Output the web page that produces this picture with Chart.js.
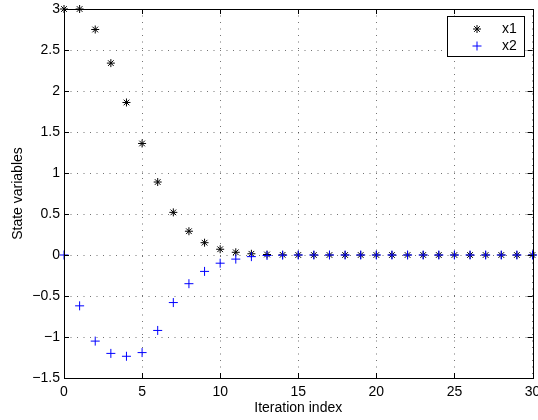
<!DOCTYPE html>
<html>
<head>
<meta charset="utf-8">
<script src="https://cdn.jsdelivr.net/npm/chart.js@4/dist/chart.umd.min.js"></script>
<style>
html,body{margin:0;padding:0;background:#fff;}
#wrap{width:538px;height:420px;position:relative;}
</style>
</head>
<body>
<div id="wrap"><canvas id="c" width="538" height="420"></canvas></div>
<script>
const iterations = [0,1,2,3,4,5,6,7,8,9,10,11,12,13,14,15,16,17,18,19,20,21,22,23,24,25,26,27,28,29,30];
const x1Values = [3, 3, 2.75, 2.34, 1.86, 1.36, 0.89, 0.52, 0.29, 0.15, 0.07, 0.033, 0.015, 0.006, 0.002, 0, 0, 0, 0, 0, 0, 0, 0, 0, 0, 0, 0, 0, 0, 0, 0];
const x2Values = [0, -0.62, -1.05, -1.2, -1.235, -1.19, -0.92, -0.58, -0.35, -0.2, -0.1, -0.05, -0.02, -0.006, -0.002, 0, 0, 0, 0, 0, 0, 0, 0, 0, 0, 0, 0, 0, 0, 0, 0];
const seriesNames = ['x1', 'x2'];
const xTitle = 'Iteration index';
const yTitle = 'State variables';

const FONT = 'Liberation Sans, Arial, Helvetica, sans-serif';

function pts(vals){ return iterations.map((x,i)=>({x:x, y:vals[i]})); }

const frameAndLegend = {
  id: 'frameAndLegend',
  afterDraw(chart){
    const {ctx, chartArea:a, scales} = chart;
    ctx.save();
    ctx.strokeStyle = '#000';
    ctx.lineWidth = 1;
    const TL = 5;
    ctx.beginPath();
    scales.x.ticks.forEach(t=>{
      const px = Math.round(scales.x.getPixelForValue(t.value)) + 0.5;
      ctx.moveTo(px, a.bottom); ctx.lineTo(px, a.bottom - TL);
      ctx.moveTo(px, a.top); ctx.lineTo(px, a.top + TL);
    });
    scales.y.ticks.forEach(t=>{
      const py = Math.round(scales.y.getPixelForValue(t.value)) + 0.5;
      ctx.moveTo(a.left, py); ctx.lineTo(a.left + TL, py);
      ctx.moveTo(a.right, py); ctx.lineTo(a.right - TL, py);
    });
    ctx.stroke();
    ctx.strokeRect(Math.round(a.left)+0.5, Math.round(a.top)+0.5, Math.round(a.right-a.left), Math.round(a.bottom-a.top));
    // legend box
    const bx = 447.5, by = 16.5, bw = 77, bh = 40;
    ctx.fillStyle = '#fff';
    ctx.fillRect(bx, by, bw, bh);
    ctx.strokeRect(bx, by, bw, bh);
    chart.data.datasets.forEach((ds, i)=>{
      const y = 29 + i*17;
      ctx.strokeStyle = ds.borderColor;
      ctx.fillStyle = ds.backgroundColor;
      ctx.lineWidth = 1;
      Chart.helpers.drawPoint(ctx, {pointStyle: ds.pointStyle, radius: ds.pointRadius, rotation: 0, borderWidth: 1}, 477, y);
      ctx.fillStyle = '#000';
      ctx.font = '14px ' + FONT;
      ctx.textAlign = 'left';
      ctx.textBaseline = 'middle';
      ctx.fillText(ds.label, 502, y);
    });
    ctx.restore();
  }
};

new Chart(document.getElementById('c'), {
  type: 'scatter',
  data: {
    datasets: [
      { label: seriesNames[0], data: pts(x1Values), pointStyle: 'star', pointRadius: 4, pointHoverRadius: 4, order: 1,
        borderColor: '#000', backgroundColor: '#000', pointBorderWidth: 1, showLine: false, clip: false },
      { label: seriesNames[1], data: pts(x2Values), pointStyle: 'cross', pointRadius: 4.5, pointHoverRadius: 4.5, order: 0,
        borderColor: '#0000ff', backgroundColor: '#0000ff', pointBorderWidth: 1, showLine: false, clip: false }
    ]
  },
  options: {
    responsive: false,
    animation: false,
    events: [],
    layout: { padding: { left: 0, right: 3.5, top: 9, bottom: 0 } },
    plugins: { legend: { display: false }, tooltip: { enabled: false } },
    scales: {
      x: {
        type: 'linear', min: 0, max: 30,
        grid: { color: 'rgba(0,0,0,0.55)', lineWidth: 1, drawTicks: false },
        border: { display: false, dash: [1, 5.5] },
        ticks: { stepSize: 5, color: '#000', padding: 6, font: { family: FONT, size: 14 }, maxRotation: 0 },
        title: { display: true, text: xTitle, color: '#000', font: { family: FONT, size: 14 }, padding: { top: 0, bottom: 3 } },
        afterFit(s){ s.height = 42; s.paddingLeft = 0; s.paddingRight = 0; }
      },
      y: {
        type: 'linear', min: -1.5, max: 3,
        grid: { color: 'rgba(0,0,0,0.55)', lineWidth: 1, drawTicks: false },
        border: { display: false, dash: [1, 5.5] },
        ticks: { stepSize: 0.5, color: '#000', padding: 4, font: { family: FONT, size: 14 },
          callback: v => String(v).replace('-', '\u2212') },
        title: { display: true, text: yTitle, color: '#000', font: { family: FONT, size: 14 }, padding: { top: 10, bottom: 0 } },
        afterFit(s){ s.width = 64; s.paddingTop = 0; s.paddingBottom = 0; }
      }
    }
  },
  plugins: [frameAndLegend]
});
</script>
</body>
</html>
